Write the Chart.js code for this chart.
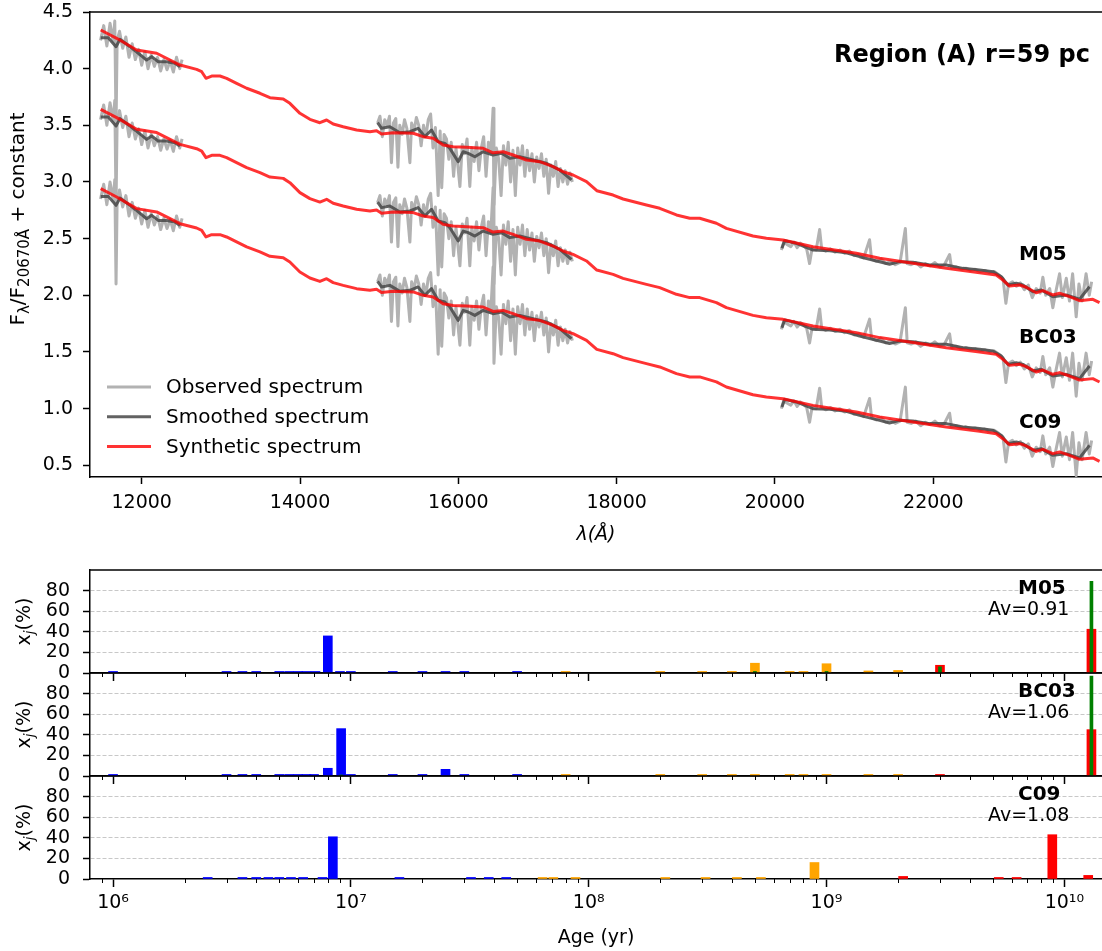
<!DOCTYPE html>
<html>
<head>
<meta charset="utf-8">
<script src="https://cdn.jsdelivr.net/npm/chart.js@4.4.0/dist/chart.umd.min.js"></script>
<style>
  body { margin: 0; background: #fff; width: 1102px; height: 951px; position: relative; overflow: hidden; }
  canvas { position: absolute; left: 0; }
</style>
</head>
<body>
<canvas id="spec" width="1102" height="560" style="top:0px"></canvas>
<canvas id="p0" width="1102" height="127" style="top:560px"></canvas>
<canvas id="p1" width="1102" height="127" style="top:663px"></canvas>
<canvas id="p2" width="1102" height="185" style="top:766px"></canvas>
<script>
// ---- spectra (values at the M05 level, other models shifted by a constant) ----
const modelNames = ['M05', 'BC03', 'C09'];
const modelOffsets = [0, -0.7, -1.4];
const modelLabelY = [255, 338, 423];

const obsLam1 = [11480,11520,11560,11600,11640,11660,11676,11690,11720,11760,11800,11840,11880,11920,11960,12000,12040,12080,12120,12160,12200,12240,12280,12320,12360,12400,12440,12480,12510];
const obsFlux1 = [4.25,4.38,4.20,4.40,4.24,4.42,3.50,4.25,4.33,4.18,4.28,4.10,4.22,4.08,4.17,4.03,4.15,4.00,4.12,4.02,4.10,3.98,4.08,3.99,4.07,3.97,4.10,4.00,4.08];

const obsLam2 = [14980,15010,15040,15070,15100,15130,15155,15180,15210,15237,15260,15290,15320,15350,15388,15410,15440,15470,15500,15530,15560,15590,15620,15650,15680,15710,15745,15770,15790,15820,15850,15880,15910,15940,15970,16000,16020,16050,16080,16110,16145,16170,16200,16230,16260,16290,16320,16350,16380,16410,16439,16450,16480,16510,16540,16570,16600,16630,16660,16690,16720,16750,16780,16810,16840,16870,16900,16930,16960,16990,17020,17050,17080,17110,17140,17170,17200,17230,17260,17290,17320,17350,17380,17410,17440];
const obsFlux2 = [3.52,3.58,3.40,3.55,3.50,3.58,3.17,3.52,3.56,3.13,3.50,3.42,3.55,3.47,3.17,3.52,3.45,3.57,3.50,3.32,3.50,3.40,3.55,3.60,3.30,3.48,2.88,3.45,2.95,3.42,3.38,3.20,3.35,3.05,3.30,3.10,2.96,3.33,3.25,3.38,2.96,3.30,3.18,3.35,3.10,3.30,3.40,3.05,3.35,3.25,3.65,2.80,3.30,3.20,2.88,3.32,3.15,3.35,3.00,3.28,2.88,3.30,3.15,3.32,3.05,3.28,3.10,3.25,3.00,3.22,3.12,3.25,3.05,3.20,2.90,3.15,3.05,3.18,2.96,3.12,3.00,3.10,2.98,3.08,3.00];

const obsLam3 = [20080,20110,20150,20200,20240,20280,20320,20360,20400,20437,20470,20520,20564,20590,20640,20700,20760,20820,20880,20940,21000,21060,21120,21195,21220,21280,21340,21400,21460,21520,21580,21647,21670,21720,21780,21840,21900,21960,22020,22080,22140,22206,22230,22290,22350,22410,22470,22530,22590,22650,22710,22770,22830,22880,22917,22950,23000,23050,23100,23150,23200,23250,23300,23350,23384,23420,23470,23510,23550,23595,23630,23680,23720,23760,23805,23840,23880,23930,23970,24000];
const obsFlux3 = [2.40,2.47,2.45,2.43,2.47,2.42,2.46,2.44,2.41,2.28,2.42,2.40,2.58,2.41,2.39,2.41,2.38,2.40,2.37,2.39,2.35,2.36,2.33,2.49,2.32,2.30,2.32,2.28,2.30,2.27,2.29,2.59,2.28,2.27,2.29,2.25,2.28,2.26,2.29,2.25,2.27,2.36,2.24,2.25,2.23,2.24,2.22,2.23,2.21,2.22,2.20,2.21,2.18,2.15,1.93,2.10,2.12,2.08,2.11,2.05,2.09,1.98,2.06,2.02,2.16,2.00,2.06,1.89,2.04,2.19,1.98,2.15,1.95,2.19,1.81,2.10,1.95,2.19,2.00,2.12];

const smLam1 = [11482,11578,11676,11726,11852,11957,12063,12126,12210,12316,12420,12484];
const smFlux1 = [4.273,4.273,4.194,4.259,4.194,4.136,4.076,4.106,4.061,4.061,4.047,4.017];
const smLam2 = [14980,15030,15135,15261,15388,15492,15577,15661,15745,15830,15893,15998,16061,16124,16208,16313,16439,16545,16650,16776,16944,17113,17281,17429];
const smFlux2 = [3.523,3.474,3.488,3.435,3.444,3.474,3.400,3.459,3.356,3.341,3.297,3.179,3.267,3.253,3.223,3.267,3.238,3.253,3.209,3.223,3.194,3.165,3.106,3.018];
const smLam3 = [20088,20122,20269,20480,20690,20900,21068,21321,21447,21573,21742,21953,22164,22374,22585,22753,22859,22942,23048,23132,23258,23364,23510,23679,23847,23973];
const smFlux3 = [2.415,2.482,2.459,2.400,2.394,2.376,2.341,2.297,2.274,2.297,2.291,2.268,2.268,2.238,2.224,2.209,2.164,2.091,2.106,2.091,2.032,2.047,1.988,2.003,1.965,2.076];

const synLam = [11482,11684,11937,12189,12484,12694,12758,12812,12884,12989,13073,13199,13326,13494,13620,13788,13872,13999,14125,14251,14336,14419,14545,14715,14883,14967,15030,15177,15429,15556,15682,15808,15934,16103,16313,16439,16566,16692,16861,17029,17197,17323,17449,17619,17749,17955,18081,18376,18544,18755,18923,19049,19260,19386,19722,19891,20101,20480,21028,21322,21742,22164,22585,22795,22879,22963,23090,23174,23300,23384,23510,23595,23721,23847,24015,24100];
const synFlux = [4.341,4.268,4.165,4.136,4.032,3.994,3.973,3.915,3.935,3.935,3.915,3.871,3.827,3.783,3.744,3.732,3.694,3.606,3.553,3.523,3.547,3.512,3.488,3.459,3.444,3.453,3.424,3.435,3.430,3.400,3.386,3.326,3.311,3.306,3.297,3.258,3.267,3.238,3.194,3.179,3.135,3.091,3.062,3.003,2.923,2.885,2.850,2.797,2.768,2.709,2.680,2.680,2.636,2.591,2.523,2.503,2.488,2.429,2.371,2.327,2.283,2.238,2.200,2.179,2.135,2.082,2.091,2.071,2.023,2.041,2.003,2.018,1.988,1.953,1.965,1.935];

const specTicksX = [12000, 14000, 16000, 18000, 20000, 22000];
const specTicksY = [0.5, 1.0, 1.5, 2.0, 2.5, 3.0, 3.5, 4.0, 4.5];

// ---- population fractions x_j (%) against age (yr) ----
const m05Ages = [1e6,3e6,3.5e6,4e6,5e6,5.5e6,6e6,6.5e6,7.1e6,8e6,9e6,1e7,1.5e7,2e7,2.5e7,3e7,5e7,8e7,2e8,3e8,4e8,5e8,7e8,8e8,1e9,1.5e9,2e9,3e9,1.3e10];
const m05Frac = [1.5,1.5,1.5,1.5,1.5,1.5,1.5,1.5,1.5,36,1.5,1.5,1.5,1.5,1.5,1.5,1.5,1.5,1.5,1.5,1.5,9.5,1.5,1.5,9,2,2.5,7.5,42.5];
const m05MassAges = [5e8, 1e9, 3e9, 1.3e10];
const m05Mass = [1.5, 1.5, 6, 89];

const bc03Ages = [1e6,3e6,3.5e6,4e6,5e6,5.5e6,6e6,6.5e6,7e6,8e6,9.1e6,1e7,1.5e7,2e7,2.5e7,3e7,5e7,8e7,2e8,3e8,4e8,5e8,7e8,8e8,1e9,1.5e9,2e9,3e9,1.3e10];
const bc03Frac = [1.5,1.5,1.5,1.5,1.5,1.5,1.5,1.5,1.5,7.5,46,1.5,1.5,1.5,6.5,1.5,1.5,1.5,1.5,1.5,1.5,1.5,1.5,1.5,1.5,1.5,1.5,1.5,45];
const bc03MassAges = [9.1e6, 1.3e10];
const bc03Mass = [1, 97];

const c09Ages = [2.5e6,3.5e6,4e6,4.5e6,5e6,5.6e6,6.3e6,7.6e6,8.4e6,1.6e7,3.2e7,3.8e7,4.5e7,6.4e7,7.1e7,8.8e7,2.1e8,3.1e8,4.2e8,5.3e8,8.9e8,2.1e9,5.3e9,6.3e9,8.9e9,1.26e10];
const c09Frac = [1.5,1.5,1.5,1.5,1.5,1.5,1.5,1.5,41,1.5,1.5,1.5,1.5,1.5,1.5,1.5,1.5,1.5,1.5,1.5,16,2.5,1.5,1.5,43,3.5];
const c09MassAges = [];
const c09Mass = [];

const panelAv = ['Av=0.91', 'Av=1.06', 'Av=1.08'];
const ageTicks = [1e6, 1e7, 1e8, 1e9, 1e10];

Chart.defaults.font.family = "'DejaVu Sans', sans-serif";
Chart.defaults.color = '#000';

function pts(lams, flux, off) {
  return lams.map((l, i) => ({ x: l, y: +(flux[i] + off).toFixed(3) }));
}
function joinSegs(segs) {
  let out = [];
  segs.forEach((s, k) => {
    if (k > 0) out.push({ x: (out[out.length - 1].x + s[0].x) / 2, y: null });
    out = out.concat(s);
  });
  return out;
}

// draws text made of normal and subscript parts, centred on (x,y)
function richText(ctx, parts, x, y, size, rotate, subScale) {
  const ss = subScale || 0.7;
  ctx.save();
  ctx.translate(x, y);
  if (rotate) ctx.rotate(-Math.PI / 2);
  const fontOf = p => (p.italic ? 'italic ' : '') + (p.sub ? size * ss : size) + "px 'DejaVu Sans'";
  let w = 0;
  parts.forEach(p => { ctx.font = fontOf(p); w += ctx.measureText(p.t).width; });
  let cx = -w / 2;
  ctx.fillStyle = '#000';
  ctx.textAlign = 'left';
  ctx.textBaseline = 'middle';
  parts.forEach(p => {
    ctx.font = fontOf(p);
    ctx.fillText(p.t, cx, p.sub ? size * 0.3 : 0);
    cx += ctx.measureText(p.t).width;
  });
  ctx.restore();
}

// keep the plot box exactly where the axes' fixed sizes put it
function noYPad(s, w) { s.width = w; s.paddingTop = 0; s.paddingBottom = 0; }
function noXPad(s, h) { s.height = h; s.paddingLeft = 0; s.paddingRight = 0; }

const OBS = '#b2b2b2', SMO = 'rgba(70,70,70,0.85)', SYN = 'rgba(255,0,0,0.8)';

const specSets = [];
modelOffsets.forEach((off, m) => {
  specSets.push({ label: 'Observed spectrum', data: joinSegs([pts(obsLam1, obsFlux1, off), pts(obsLam2, obsFlux2, off), pts(obsLam3, obsFlux3, off)]), borderColor: OBS, borderWidth: 3, order: 3 });
  specSets.push({ label: 'Smoothed spectrum', data: joinSegs([pts(smLam1, smFlux1, off), pts(smLam2, smFlux2, off), pts(smLam3, smFlux3, off)]), borderColor: SMO, borderWidth: 3, order: 2 });
  specSets.push({ label: 'Synthetic spectrum', data: pts(synLam, synFlux, off), borderColor: SYN, borderWidth: 3, order: 1 });
});

const specDecor = {
  id: 'specDecor',
  afterDraw(chart) {
    const ctx = chart.ctx, a = chart.chartArea;
    ctx.save();
    ctx.strokeStyle = '#000';
    ctx.lineWidth = 1.5;
    ctx.beginPath();
    ctx.moveTo(a.left, a.top);
    ctx.lineTo(a.right, a.top);
    ctx.stroke();
    ctx.fillStyle = '#000';
    ctx.font = "bold 24px 'DejaVu Sans'";
    ctx.textAlign = 'right';
    ctx.textBaseline = 'alphabetic';
    ctx.fillText('Region (A) r=59 pc', 1090, 62);
    ctx.font = "bold 20px 'DejaVu Sans'";
    ctx.textAlign = 'left';
    ctx.textBaseline = 'middle';
    modelNames.forEach((n, i) => ctx.fillText(n, 1019, modelLabelY[i]));
    // legend
    const items = [['Observed spectrum', OBS], ['Smoothed spectrum', SMO], ['Synthetic spectrum', SYN]];
    ctx.font = "20px 'DejaVu Sans'";
    items.forEach((it, i) => {
      const y = 387 + i * 29.7;
      ctx.strokeStyle = it[1];
      ctx.lineWidth = 3;
      ctx.beginPath();
      ctx.moveTo(107, y);
      ctx.lineTo(151, y);
      ctx.stroke();
      ctx.fillStyle = '#000';
      ctx.fillText(it[0], 166, y + 1);
    });
    ctx.restore();
    richText(ctx, [{ t: 'F' }, { t: 'λ', sub: 1 }, { t: '/F' }, { t: '20670Å', sub: 1 }, { t: ' + constant' }], 19, 219, 20, true, 0.75);
    richText(ctx, [{ t: 'λ(Å)', italic: 1 }], (a.left + a.right) / 2, 535, 19, false);
  }
};

new Chart(document.getElementById('spec'), {
  type: 'line',
  data: { datasets: specSets },
  options: {
    responsive: false,
    animation: false,
    devicePixelRatio: 1,
    layout: { padding: { top: 12, left: 0, right: 0, bottom: 0 } },
    plugins: { legend: { display: false }, tooltip: { enabled: false } },
    elements: { point: { radius: 0 }, line: { tension: 0, borderJoinStyle: 'round' } },
    scales: {
      x: {
        type: 'linear', min: 11347, max: 24131,
        afterBuildTicks: s => { s.ticks = specTicksX.map(v => ({ value: v })); },
        afterFit: s => noXPad(s, 83),
        grid: { drawOnChartArea: false, tickLength: 7, tickWidth: 1.5, tickColor: '#000' },
        border: { color: '#000', width: 1.5 },
        ticks: { font: { size: 19 }, color: '#000', padding: 8, maxRotation: 0, autoSkip: false, callback: v => String(v) }
      },
      y: {
        type: 'linear', min: 0.397, max: 4.5,
        afterBuildTicks: s => { s.ticks = specTicksY.map(v => ({ value: v })); },
        afterFit: s => noYPad(s, 90),
        grid: { drawOnChartArea: false, tickLength: 7, tickWidth: 1.5, tickColor: '#000' },
        border: { color: '#000', width: 1.5 },
        ticks: { font: { size: 19 }, color: '#000', padding: 10, autoSkip: false, callback: v => v.toFixed(1) }
      }
    }
  },
  plugins: [specDecor]
});

// ---- bar panels ----
const SUP = '⁰¹²³⁴⁵⁶⁷⁸⁹';
const supNum = n => String(n).split('').map(c => SUP[+c]).join('');
function ageColor(a) {
  if (a < 6e7) return '#0000ff';
  if (a < 2.05e9) return '#ffa500';
  return '#ff0000';
}
function barSets(ages, fracs, massAges, mass) {
  const groups = { '#0000ff': [], '#ffa500': [], '#ff0000': [] };
  ages.forEach((a, i) => groups[ageColor(a)].push({ x: a, y: fracs[i] }));
  const sets = [{ data: massAges.map((a, i) => ({ x: a, y: mass[i] })), backgroundColor: '#008000', barThickness: 3, order: 0 }];
  Object.keys(groups).forEach(c => sets.push({ data: groups[c], backgroundColor: c, barThickness: 9, order: 1 }));
  sets.forEach(s => { s.stack = 'all'; s.grouped = true; s.borderWidth = 0; });
  return sets;
}

const panelData = [
  barSets(m05Ages, m05Frac, m05MassAges, m05Mass),
  barSets(bc03Ages, bc03Frac, bc03MassAges, bc03Mass),
  barSets(c09Ages, c09Frac, c09MassAges, c09Mass)
];

function minorTicks(min, max) {
  const out = [];
  for (let d = 5; d <= 10; d++) for (let m = 2; m <= 9; m++) {
    const v = m * Math.pow(10, d);
    if (v > min && v < max) out.push(v);
  }
  return out;
}

panelData.forEach((sets, k) => {
  const last = k === 2;
  const decor = {
    id: 'panelDecor' + k,
    afterDraw(chart) {
      const ctx = chart.ctx, a = chart.chartArea, xs = chart.scales.x;
      ctx.save();
      ctx.strokeStyle = '#000';
      ctx.lineWidth = 1.5;
      ctx.beginPath();
      ctx.moveTo(a.left, a.top);
      ctx.lineTo(a.right, a.top);
      ctx.stroke();
      ctx.lineWidth = 1;
      minorTicks(xs.min, xs.max).forEach(v => {
        const px = Math.round(xs.getPixelForValue(v)) + 0.5;
        ctx.beginPath();
        ctx.moveTo(px, a.bottom);
        ctx.lineTo(px, a.bottom + 4);
        ctx.stroke();
      });
      ctx.fillStyle = '#000';
      ctx.textAlign = 'left';
      ctx.textBaseline = 'middle';
      ctx.font = "bold 20px 'DejaVu Sans'";
      ctx.fillText(modelNames[k], 1018, a.top + 19);
      ctx.font = "19px 'DejaVu Sans'";
      ctx.fillText(panelAv[k], 988, a.top + 40);
      ctx.restore();
      richText(ctx, [{ t: 'x' }, { t: 'j', sub: 1, italic: 1 }, { t: '(%)' }], 25, (a.top + a.bottom) / 2, 19, true);
      if (last) richText(ctx, [{ t: 'Age (yr)' }], (a.left + a.right) / 2, 172, 19, false);
    }
  };
  new Chart(document.getElementById('p' + k), {
    type: 'bar',
    data: { datasets: sets },
    options: {
      responsive: false,
      animation: false,
      devicePixelRatio: 1,
      layout: { padding: { top: 10, left: 0, right: 0, bottom: 0 } },
      plugins: { legend: { display: false }, tooltip: { enabled: false } },
      scales: {
        x: {
          type: 'logarithmic', min: 8.0e5, max: 1.44e10, offset: false,
          afterBuildTicks: s => { s.ticks = ageTicks.map(v => ({ value: v, major: true })); },
          afterFit: s => noXPad(s, last ? 72 : 14),
          grid: { offset: false, drawOnChartArea: false, tickLength: 8, tickWidth: 1.5, tickColor: '#000' },
          border: { color: '#000', width: 1.5 },
          ticks: {
            display: last, font: { size: 19 }, color: '#000', padding: 5, maxRotation: 0, autoSkip: false,
            callback: v => '10' + supNum(Math.round(Math.log10(v)))
          }
        },
        y: {
          type: 'linear', min: 0, max: 100, stacked: false,
          afterBuildTicks: s => { s.ticks = [0, 20, 40, 60, 80].map(v => ({ value: v })); },
          afterFit: s => noYPad(s, 90),
          grid: {
            color: c => (c.tick && c.tick.value === 0) ? 'rgba(0,0,0,0)' : '#c8c8c8',
            lineWidth: 1, tickLength: 7, tickWidth: 1.5, tickColor: '#000'
          },
          border: { color: '#000', width: 1.5, dash: [4, 2] },
          ticks: { font: { size: 19 }, color: '#000', padding: 13, autoSkip: false }
        }
      }
    },
    plugins: [decor]
  });
});
</script>
</body>
</html>
